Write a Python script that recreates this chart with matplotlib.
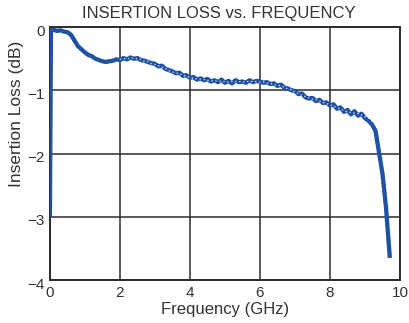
import matplotlib
matplotlib.use("Agg")
import matplotlib.pyplot as plt
import matplotlib.transforms as mtransforms

plt.rcParams['font.family'] = ['Liberation Sans', 'DejaVu Sans']

title = "INSERTION LOSS vs. FREQUENCY"
xlabel = "Frequency (GHz)"
ylabel = "Insertion Loss (dB)"
xticks = [0, 2, 4, 6, 8, 10]
yticks = [0, -1, -2, -3, -4]

freq = [0.0, 0.03, 0.1, 0.2, 0.3, 0.4, 0.5, 0.6, 0.7, 0.8, 0.9,
        1.0, 1.1, 1.2, 1.3, 1.4, 1.5, 1.6, 1.7, 1.8, 1.9,
        2.0, 2.1, 2.2, 2.3, 2.4, 2.5, 2.6, 2.7, 2.8, 2.9,
        3.0, 3.1, 3.2, 3.3, 3.4, 3.5, 3.6, 3.7, 3.8, 3.9,
        4.0, 4.1, 4.2, 4.3, 4.4, 4.5, 4.6, 4.7, 4.8, 4.9,
        5.0, 5.1, 5.2, 5.3, 5.4, 5.5, 5.6, 5.7, 5.8, 5.9,
        6.0, 6.1, 6.2, 6.3, 6.4, 6.5, 6.6, 6.7, 6.8, 6.9,
        7.0, 7.1, 7.2, 7.3, 7.4, 7.5, 7.6, 7.7, 7.8, 7.9,
        8.0, 8.1, 8.2, 8.3, 8.4, 8.5, 8.6, 8.7, 8.8, 8.9,
        9.0, 9.1, 9.2, 9.3, 9.4, 9.5, 9.6, 9.71]
loss = [-3.00, -0.06, -0.04, -0.06, -0.05, -0.07, -0.08, -0.12, -0.21, -0.30, -0.35,
        -0.40, -0.44, -0.46, -0.50, -0.52, -0.54, -0.55, -0.54, -0.53, -0.51,
        -0.52, -0.49, -0.51, -0.48, -0.50, -0.49, -0.52, -0.53, -0.55, -0.57,
        -0.58, -0.62, -0.61, -0.66, -0.68, -0.70, -0.73, -0.72, -0.77, -0.76,
        -0.80, -0.79, -0.83, -0.81, -0.84, -0.82, -0.86, -0.84, -0.87, -0.83,
        -0.88, -0.85, -0.89, -0.84, -0.87, -0.86, -0.88, -0.84, -0.87, -0.85,
        -0.86, -0.88, -0.87, -0.90, -0.89, -0.93, -0.91, -0.96, -0.97, -1.00,
        -1.01, -1.06, -1.05, -1.11, -1.13, -1.12, -1.17, -1.15, -1.20, -1.19,
        -1.24, -1.22, -1.29, -1.27, -1.34, -1.31, -1.38, -1.33, -1.40, -1.37,
        -1.44, -1.48, -1.54, -1.64, -1.98, -2.32, -2.85, -3.65]

# second (overlapping) trace that shows as light speckles inside the band
freq_b = [2.0, 2.1, 2.2, 2.3, 2.4, 2.5, 2.6, 2.7, 2.8, 2.9,
          3.0, 3.1, 3.2, 3.3, 3.4, 3.5, 3.6, 3.7, 3.8, 3.9,
          4.0, 4.1, 4.2, 4.3, 4.4, 4.5, 4.6, 4.7, 4.8, 4.9,
          5.0, 5.1, 5.2, 5.3, 5.4, 5.5, 5.6, 5.7, 5.8, 5.9,
          6.0, 6.1, 6.2, 6.3, 6.4, 6.5, 6.6, 6.7, 6.8, 6.9,
          7.0, 7.1, 7.2, 7.3, 7.4, 7.5, 7.6, 7.7, 7.8, 7.9,
          8.0, 8.1, 8.2, 8.3, 8.4, 8.5, 8.6, 8.7, 8.8, 8.9,
          9.0, 9.1, 9.2]
loss_b = [-0.51, -0.50, -0.50, -0.49, -0.49, -0.50, -0.51, -0.54, -0.54, -0.58,
          -0.59, -0.61, -0.63, -0.65, -0.69, -0.71, -0.72, -0.74, -0.76, -0.78,
          -0.79, -0.81, -0.82, -0.82, -0.83, -0.84, -0.85, -0.85, -0.85, -0.86,
          -0.86, -0.87, -0.86, -0.86, -0.86, -0.87, -0.86, -0.86, -0.86, -0.86,
          -0.87, -0.87, -0.88, -0.89, -0.91, -0.92, -0.93, -0.95, -0.98, -0.99,
          -1.03, -1.05, -1.08, -1.10, -1.12, -1.14, -1.15, -1.17, -1.19, -1.21,
          -1.23, -1.25, -1.27, -1.30, -1.32, -1.34, -1.35, -1.36, -1.37, -1.39,
          -1.42, -1.44, -1.49]

line_color = "#1f52a3"
grid_color = "#2b2b2b"
text_color = "#333333"

fig = plt.figure(figsize=(4.09, 3.23), dpi=100)
ax = fig.add_axes([0.122, 0.133, 0.856, 0.783])
ax.plot(freq, loss, color=line_color, lw=3.1, solid_joinstyle='round',
        solid_capstyle='butt', zorder=3)
ax.plot(freq_b, loss_b, color="white", lw=0.9, ls=(0, (1.0, 2.2)), alpha=0.85, zorder=4)
ax.set_xlim(0, 10)
ax.set_ylim(-4, 0)
ax.set_xticks(xticks)
ax.set_yticks(yticks)
ax.grid(True, color=grid_color, lw=1.1)
ax.set_axisbelow(True)
for s in ax.spines.values():
    s.set_color(grid_color)
    s.set_linewidth(1.4)
ax.tick_params(length=0, labelsize=11, colors=text_color)
ax.tick_params(axis='x', pad=4.5)
ax.tick_params(axis='y', pad=3.5)
off = mtransforms.ScaledTranslation(0, -3 / 100, fig.dpi_scale_trans)
for lab in ax.get_yticklabels():
    lab.set_transform(lab.get_transform() + off)
fig.text(218.5 / 409, 1 - 18 / 323, title, fontsize=12, color=text_color,
         ha='center', va='baseline')
ax.set_xlabel(xlabel, fontsize=12, color=text_color, labelpad=1)
ax.set_ylabel(ylabel, fontsize=12.5, color=text_color)
ax.yaxis.set_label_coords(-0.075, 0.658)
fig.savefig("out.png", dpi=100)
